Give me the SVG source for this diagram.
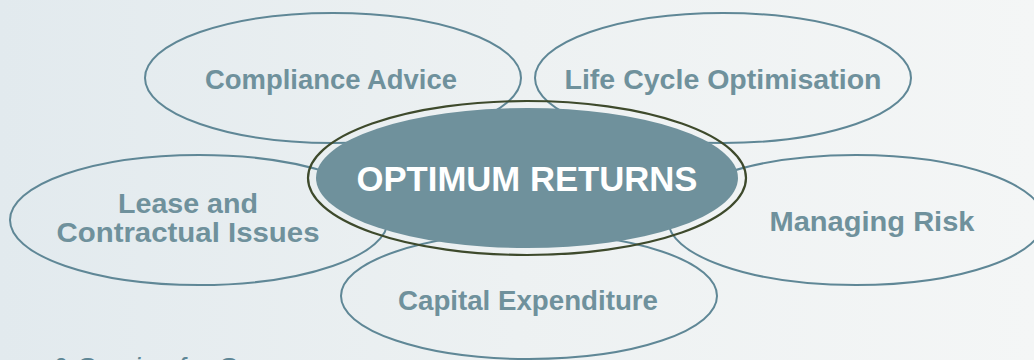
<svg xmlns="http://www.w3.org/2000/svg" width="1034" height="360" viewBox="0 0 1034 360">
  <defs>
    <linearGradient id="bg" x1="0" y1="0" x2="1" y2="0">
      <stop offset="0" stop-color="#e2eaee"/>
      <stop offset="0.5" stop-color="#edf1f2"/>
      <stop offset="1" stop-color="#f4f6f6"/>
    </linearGradient>
    <style>
      .node { fill: none; stroke: #5f8796; stroke-width: 2; }
      .lbl { font-family: "Liberation Sans", Arial, sans-serif; font-weight: bold; font-size: 28px; fill: #6f919c; text-anchor: middle; }
      .ring { fill: none; stroke: #3e4a2c; stroke-width: 2.2; }
      .core { fill: #6f919c; }
      .core-lbl { font-family: "Liberation Sans", Arial, sans-serif; font-weight: bold; font-size: 35px; fill: #ffffff; text-anchor: middle; }
      .foot { font-family: "Liberation Sans", Arial, sans-serif; font-style: italic; font-size: 28px; fill: #5f8796; }
    </style>
  </defs>
  <rect x="0" y="0" width="1034" height="360" fill="url(#bg)"/>

  <g id="connectors"></g>

  <g id="node-compliance">
    <ellipse class="node" cx="333" cy="78" rx="188" ry="65"/>
    <text class="lbl" x="331" y="89" textLength="252" lengthAdjust="spacingAndGlyphs">Compliance Advice</text>
  </g>
  <g id="node-lifecycle">
    <ellipse class="node" cx="723" cy="78" rx="188" ry="65"/>
    <text class="lbl" x="723" y="89" textLength="317" lengthAdjust="spacingAndGlyphs">Life Cycle Optimisation</text>
  </g>
  <g id="node-lease">
    <ellipse class="node" cx="199" cy="220" rx="189" ry="65"/>
    <text class="lbl" x="188" y="213" textLength="140" lengthAdjust="spacingAndGlyphs">Lease and</text>
    <text class="lbl" x="188" y="242" textLength="263" lengthAdjust="spacingAndGlyphs">Contractual Issues</text>
  </g>
  <g id="node-risk">
    <ellipse class="node" cx="856" cy="220" rx="188" ry="65"/>
    <text class="lbl" x="872" y="231" textLength="205" lengthAdjust="spacingAndGlyphs">Managing Risk</text>
  </g>
  <g id="node-capex">
    <ellipse class="node" cx="529" cy="296" rx="188" ry="63"/>
    <text class="lbl" x="528" y="310" textLength="260" lengthAdjust="spacingAndGlyphs">Capital Expenditure</text>
  </g>
  <g id="node-optimum">
    <ellipse class="ring" cx="527" cy="178" rx="219" ry="77"/>
    <ellipse class="core" cx="527" cy="178" rx="211" ry="70"/>
    <text class="core-lbl" x="527" y="191" textLength="341" lengthAdjust="spacingAndGlyphs">OPTIMUM RETURNS</text>
  </g>

  <text class="foot" x="50" y="377">&amp; Service for S</text>
</svg>
